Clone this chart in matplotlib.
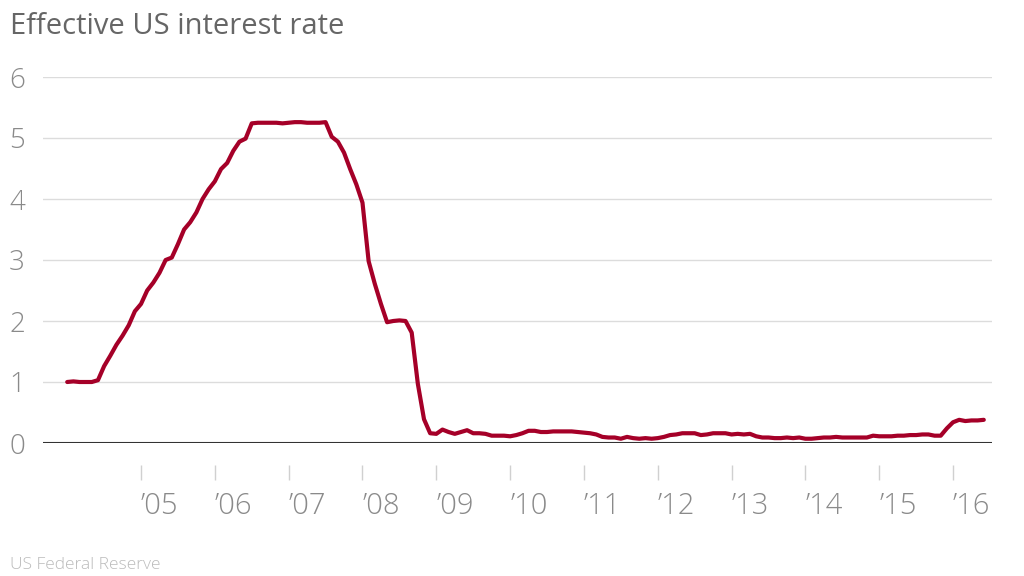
import numpy as np
import matplotlib
matplotlib.use('Agg')
import matplotlib.pyplot as plt

plt.rcParams['font.family'] = ['Open Sans', 'DejaVu Sans']

# monthly effective rate, Jan 2004 .. Jun 2016
start_year = 2004
rate = [
    1.00, 1.01, 1.00, 1.00, 1.00, 1.03, 1.26, 1.43, 1.61, 1.76, 1.93, 2.16,  # 2004
    2.28, 2.50, 2.63, 2.79, 3.00, 3.04, 3.26, 3.50, 3.62, 3.78, 4.00, 4.16,  # 2005
    4.29, 4.49, 4.59, 4.79, 4.94, 4.99, 5.24, 5.25, 5.25, 5.25, 5.25, 5.24,  # 2006
    5.25, 5.26, 5.26, 5.25, 5.25, 5.25, 5.26, 5.02, 4.94, 4.76, 4.49, 4.24,  # 2007
    3.94, 2.98, 2.61, 2.28, 1.98, 2.00, 2.01, 2.00, 1.81, 0.97, 0.39, 0.16,  # 2008
    0.15, 0.22, 0.18, 0.15, 0.18, 0.21, 0.16, 0.16, 0.15, 0.12, 0.12, 0.12,  # 2009
    0.11, 0.13, 0.16, 0.20, 0.20, 0.18, 0.18, 0.19, 0.19, 0.19, 0.19, 0.18,  # 2010
    0.17, 0.16, 0.14, 0.10, 0.09, 0.09, 0.07, 0.10, 0.08, 0.07, 0.08, 0.07,  # 2011
    0.08, 0.10, 0.13, 0.14, 0.16, 0.16, 0.16, 0.13, 0.14, 0.16, 0.16, 0.16,  # 2012
    0.14, 0.15, 0.14, 0.15, 0.11, 0.09, 0.09, 0.08, 0.08, 0.09, 0.08, 0.09,  # 2013
    0.07, 0.07, 0.08, 0.09, 0.09, 0.10, 0.09, 0.09, 0.09, 0.09, 0.09, 0.12,  # 2014
    0.11, 0.11, 0.11, 0.12, 0.12, 0.13, 0.13, 0.14, 0.14, 0.12, 0.12, 0.24,  # 2015
    0.34, 0.38, 0.36, 0.37, 0.37, 0.38,                                      # 2016
]
years = list(range(2005, 2017))
year_labels = ['\u2019%02d' % (y % 100) for y in years]
yticks = [0, 1, 2, 3, 4, 5, 6]

t = start_year + np.arange(len(rate)) / 12.0

W, H = 1024, 576
fig = plt.figure(figsize=(W / 100, H / 100), dpi=100)
ax = fig.add_axes([43 / W, 1 - 443 / H, (992 - 43) / W, (443 - 77) / H])

ax.set_xlim(2003.672, 2016.528)
ax.set_ylim(0, 6)

for v in yticks[1:]:
    ax.axhline(v, color='#dcdcdc', lw=1, zorder=1)
ax.axhline(0, color='#333333', lw=1.5, zorder=2)

ax.plot(t, rate, color='#a50028', lw=3.0, solid_joinstyle='round',
        solid_capstyle='round', zorder=3)

for s in ['top', 'right', 'left']:
    ax.spines[s].set_visible(False)
ax.spines['bottom'].set_position(('outward', 16))
ax.spines['bottom'].set_visible(False)

ax.set_xticks(years)
ax.set_xticklabels(year_labels)
ax.tick_params(axis='x', direction='out', length=11, width=1, color='#d0d0d0',
               pad=8, labelsize=21, labelcolor='#8a8a8a')
for lab in ax.get_xticklabels():
    lab.set_ha('left')
    lab.set_fontweight('light')

ax.set_yticks(yticks)
ax.set_yticklabels([str(v) for v in yticks])
ax.tick_params(axis='y', length=0, pad=13, labelsize=20, labelcolor='#8a8a8a')
for lab in ax.get_yticklabels():
    lab.set_fontweight('light')

fig.text(10 / W, 1 - 27 / H, 'Effective US interest rate', fontsize=21,
         color='#666666', va='center', ha='left')
fig.text(10 / W, 1 - 565 / H, 'US Federal Reserve', fontsize=12.5,
         color='#bbbbbb', va='center', ha='left', fontweight='light')

fig.savefig('out.png', dpi=100)
